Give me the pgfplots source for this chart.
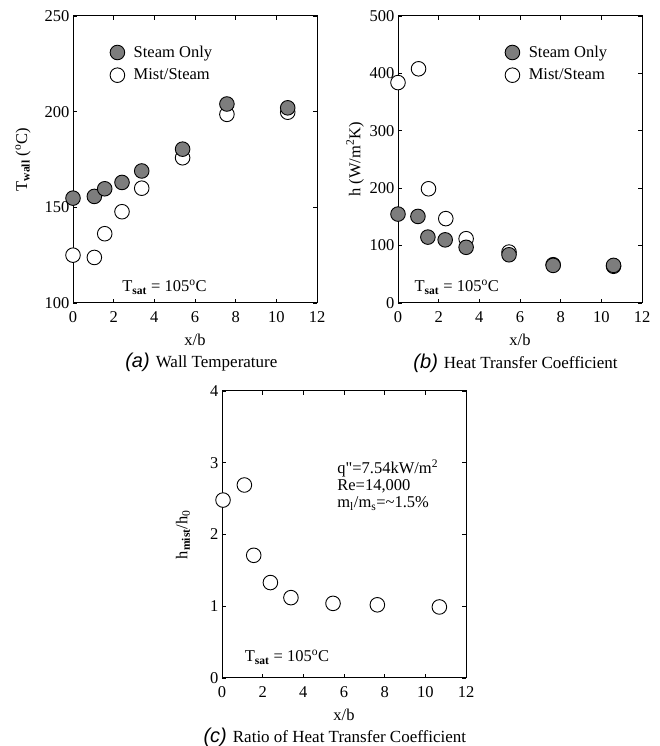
\documentclass[border=0pt]{standalone}
\usepackage{fontspec}
\setmainfont{Liberation Serif}
\newfontfamily\capsf{Liberation Sans}
\usepackage{pgfplots}
\pgfplotsset{compat=1.18}
\definecolor{steamgray}{RGB}{125,125,125}
\newcommand\fs{\fontsize{16.5}{18}\selectfont}
\newcommand\fc{\fontsize{17}{19}\selectfont}
\newcommand\capl{\fontsize{20}{20}\selectfont\capsf\itshape}
\pgfplotsset{
 panel/.style={
  scale only axis, width=244pt, height=287pt, anchor=south west,
  xmin=0, xmax=12, xtick={0,2,...,12},
  tick align=inside, major tick length=4pt,
  tick style={black, line width=0.8pt},
  axis line style={black, line width=1pt},
  /pgf/number format/assume math mode=true,
  tick label style={font=\fs},
  xticklabel style={yshift=-5pt},
  every axis x label/.style={at={(axis description cs:0.5,-0.128)}, anchor=center, font=\fs},
  clip=false,
  legend style={draw=none, fill=none, font=\fs, anchor=north west, row sep=6pt, column sep=7pt, nodes={inner sep=2pt}},
  legend cell align=left,
  reverse legend,
  xlabel={x/b},
 },
 steam/.style={only marks, mark=*, mark size=7.3pt, mark options={draw=black, fill=steamgray, line width=0.9pt}},
 mist/.style={only marks, mark=*, mark size=7.3pt, mark options={draw=black, fill=white, line width=0.9pt}},
}
\begin{document}
\begin{tikzpicture}
\path[use as bounding box] (0,0) rectangle (659pt,746pt);
% (a)
\begin{axis}[panel, at={(73pt,443pt)},
  ymin=100, ymax=250, ytick={100,150,...,250},
  every axis y label/.style={at={(axis description cs:-0.205,0.5)}, rotate=90, anchor=center, font=\fs},
  ylabel={T\textsubscript{\textbf{wall}} (\textsuperscript{o}C)},
  legend style={at={(rel axis cs:0.139,0.91)}}]
\addplot[mist] coordinates {(0,125) (1.05,123.8) (1.56,136.2) (2.41,147.7) (3.38,160) (5.39,175.9) (7.57,198.6) (10.56,199.7)};
\addlegendentry{Mist/Steam}
\addplot[steam] coordinates {(0,154.8) (1.05,155.7) (1.56,159.7) (2.41,163) (3.38,169) (5.39,180.4) (7.57,204) (10.56,202)};
\addlegendentry{Steam Only}
\node[anchor=base west, font=\fs] at (axis cs:2.25,105.9) {T\textsubscript{\textbf{sat}} = 105\textsuperscript{o}C};
\node[anchor=base west, font=\fc] at (rel axis cs:0.2,-0.226) {{\capl(a)}\hspace{6pt}Wall Temperature};
\end{axis}
% (b)
\begin{axis}[panel, at={(398pt,443pt)},
  ymin=0, ymax=500, ytick={0,100,...,500},
  every axis y label/.style={at={(axis description cs:-0.176,0.5)}, rotate=90, anchor=center, font=\fs},
  ylabel={h (W/m\textsuperscript{2}K)},
  legend style={at={(rel axis cs:0.426,0.91)}}]
\addplot[mist] coordinates {(0,384) (1.01,408) (1.5,199) (2.35,147) (3.35,112) (5.46,88.7) (7.63,66.7) (10.6,64)};
\addlegendentry{Mist/Steam}
\addplot[steam] coordinates {(0,154.9) (0.98,150.8) (1.47,114.8) (2.32,110) (3.35,97) (5.46,84) (7.63,65.5) (10.6,65.5)};
\addlegendentry{Steam Only}
\node[anchor=base west, font=\fs] at (axis cs:0.64,19.7) {T\textsubscript{\textbf{sat}} = 105\textsuperscript{o}C};
\node[anchor=base west, font=\fc] at (rel axis cs:0.049,-0.227) {{\capl(b)}\hspace{6pt}Heat Transfer Coefficient};
\end{axis}
% (c)
\begin{axis}[panel, at={(222pt,68pt)},
  ymin=0, ymax=4, ytick={0,1,...,4},
  every axis y label/.style={at={(axis description cs:-0.16,0.5)}, rotate=90, anchor=center, font=\fs},
  ylabel={h\textsubscript{\textbf{mist}}/h\textsubscript{0}}]
\addplot[mist] coordinates {(0.05,2.48) (1.1,2.69) (1.56,1.71) (2.38,1.33) (3.39,1.12) (5.46,1.04) (7.64,1.02) (10.69,0.99)};
\node[anchor=base west, font=\fs] at (axis cs:0.95,0.227) {T\textsubscript{\textbf{sat}} = 105\textsuperscript{o}C};
\node[anchor=base west, font=\fs] at (axis cs:5.5,2.85) {q{\addfontfeatures{Ligatures=TeXOff}"}=7.54kW/m\textsuperscript{2}};
\node[anchor=base west, font=\fs] at (axis cs:5.5,2.61) {Re=14,000};
\node[anchor=base west, font=\fs] at (axis cs:5.5,2.37) {m\textsubscript{l}/m\textsubscript{s}=\textasciitilde1.5\%};
\node[anchor=base west, font=\fc] at (rel axis cs:-0.09,-0.223) {{\capl(c)}\hspace{6pt}Ratio of Heat Transfer Coefficient};
\end{axis}
\end{tikzpicture}
\end{document}
